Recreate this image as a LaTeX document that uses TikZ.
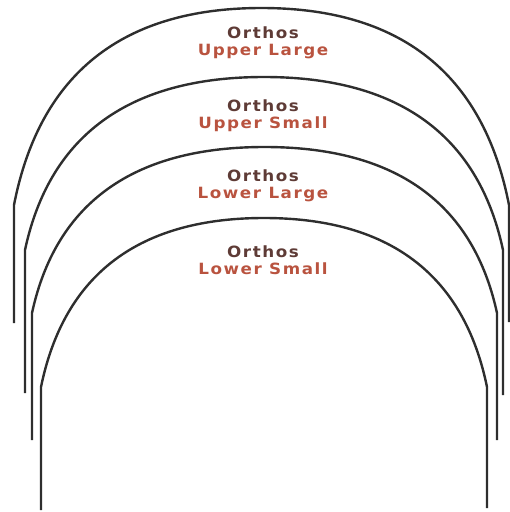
\documentclass[tikz,border=0pt]{standalone}
\usepackage{fontspec}
\newfontfamily\lblfont[LetterSpace=10,FakeStretch=1.08]{DejaVu Sans}
\definecolor{wirec}{HTML}{2E2E2E}
\definecolor{topc}{HTML}{5E3B36}
\definecolor{subc}{HTML}{B9533F}
% #1 left x, #2 right x, #3 top y, #4 leg start y, #5 left bottom, #6 right bottom
\newcommand\archwire[6]{%
  \pgfmathsetmacro\cx{(#1+#2)/2}%
  \pgfmathsetmacro\ha{(#2-#1)/2}%
  \pgfmathsetmacro\hh{#4-#3}%
  \draw[wire] (#1,#5) -- (#1,#4)
    .. controls (#1+0.09*\ha,#4-0.58*\hh) and (\cx-0.63*\ha,#3) .. (\cx,#3)
    .. controls (\cx+0.63*\ha,#3) and (#2-0.09*\ha,#4-0.58*\hh) .. (#2,#4) -- (#2,#6);}
\begin{document}
\begin{tikzpicture}[x=1pt,y=-1pt,
  wire/.style={draw=wirec,line width=2.4pt},
  lbl/.style={align=center,inner sep=0pt,font=\lblfont\bfseries\fontsize{15.5}{17.5}\selectfont}]
\useasboundingbox (0,0) rectangle (510,512);
\archwire{14}{509}{8}{205}{323}{322}
\archwire{25}{503}{77}{250}{393}{395}
\archwire{32}{497}{147}{313}{440}{440}
\archwire{41}{487}{218}{387}{510}{508}
\node[lbl] (ul) at (263,43) {\textcolor{topc}{Orthos}\\\textcolor{subc}{Upper Large}};
\node[lbl] (us) at (263,115.5) {\textcolor{topc}{Orthos}\\\textcolor{subc}{Upper Small}};
\node[lbl] (ll) at (263,186) {\textcolor{topc}{Orthos}\\\textcolor{subc}{Lower Large}};
\node[lbl] (ls) at (263,260) {\textcolor{topc}{Orthos}\\\textcolor{subc}{Lower Small}};
\end{tikzpicture}
\end{document}
